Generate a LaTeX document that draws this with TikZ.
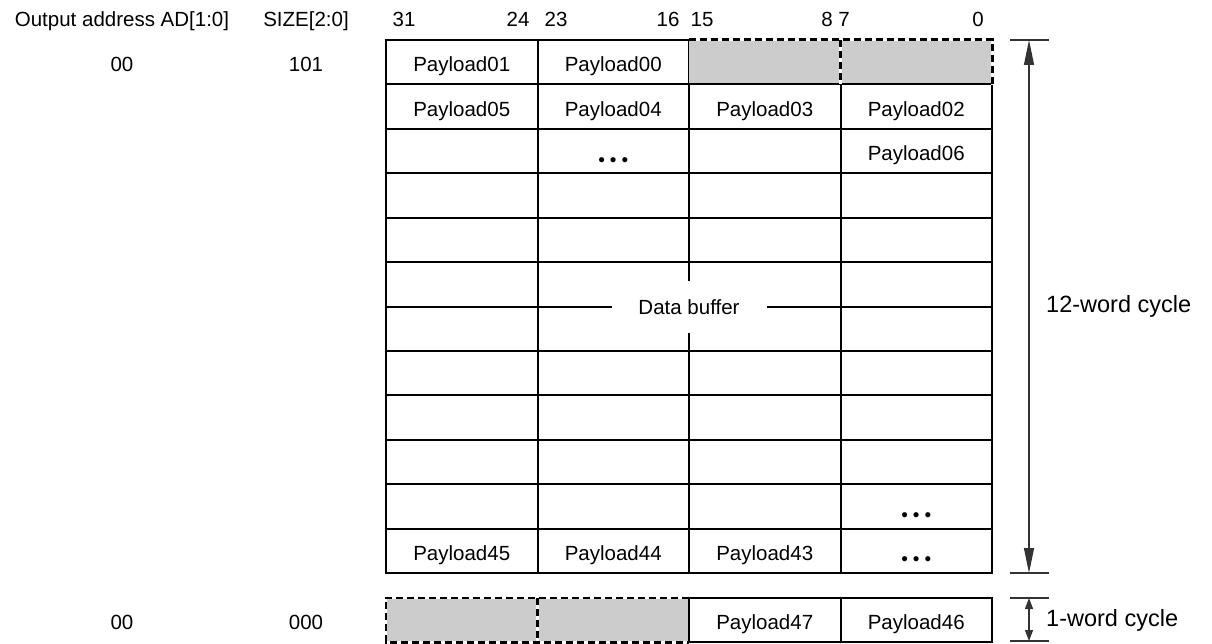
\documentclass[tikz,border=0pt]{standalone}
\usepackage{fontspec}
\setmainfont{Liberation Sans}
\usetikzlibrary{arrows.meta}
\definecolor{shade}{HTML}{CCCCCC}
\definecolor{dimgray}{HTML}{333333}
\newcommand{\ellipsisdots}{\raisebox{-5.5pt}{\fontsize{19}{20}\selectfont •\hspace{5pt}•\hspace{5pt}•}}
\begin{document}
\begin{tikzpicture}[x=1pt,y=-1pt,
  txt/.style={font=\fontsize{20.5}{24}\selectfont, inner sep=0pt, text height=15pt, text depth=0pt},
  ctxt/.style={txt, yshift=-2pt},
  bigtxt/.style={font=\fontsize{23.5}{28}\selectfont, inner sep=0pt, text height=17pt, text depth=5pt},
  cell/.style={draw, line width=2pt, minimum width=151.5pt, minimum height=44.42pt, inner sep=0pt},
  shadecell/.style={fill=shade, minimum width=151.5pt, minimum height=44.42pt, inner sep=0pt},
  dashedge/.style={line width=2.6pt, dash pattern=on 7pt off 4pt},
  underlay/.style={line width=2.6pt, white},
  dimline/.style={line width=1.3pt, dimgray},
  bigtip/.style={{Triangle[length=25pt,width=10pt]}-{Triangle[length=25pt,width=10pt]}},
  smalltip/.style={{Triangle[length=11pt,width=8pt]}-{Triangle[length=11pt,width=8pt]}}
]
\useasboundingbox (0,0) rectangle (1212,644);

% ---- column headings ----
\node[txt] (hdr-addr) at (122,19.5) {Output address AD[1:0]};
\node[txt] (hdr-size) at (306,19.5) {SIZE[2:0]};
\foreach \lbl/\xx in {31/404, 24/518, 23/556, 16/668, 15/702, 8/827, 7/844, 0/978}
  \node[txt] (bit-\lbl) at (\xx,19.5) {\lbl};

% ---- data buffer: 12 rows x 4 byte lanes ----
% first row: two payload bytes, two unused lanes
\node[cell] (cell-0-0) at (461.75,62.21) {};
\node[cell] (cell-0-1) at (613.25,62.21) {};
\node[shadecell] (cell-0-2) at (764.75,62.21) {};
\node[shadecell] (cell-0-3) at (916.25,62.21) {};
\foreach \r in {1,...,11}
  \foreach \c in {0,...,3}
    \node[cell] (cell-\r-\c) at ({386+151.5*(\c+0.5)},{40+44.42*(\r+0.5)}) {};

% unused lanes of the first row: dashed outline
\draw[underlay] (cell-0-2.north west) -- (cell-0-3.north east) -- (cell-0-3.south east);
\draw[underlay] (cell-0-2.north east) -- (cell-0-2.south east);
\draw[dashedge] (cell-0-2.north west) -- (cell-0-3.north east) -- (cell-0-3.south east);
\draw[dashedge] (cell-0-2.north east) -- (cell-0-2.south east);

% payload bytes
\node[ctxt] (p01) at (cell-0-0) {Payload01};
\node[ctxt] (p00) at (cell-0-1) {Payload00};
\node[ctxt] (p05) at (cell-1-0) {Payload05};
\node[ctxt] (p04) at (cell-1-1) {Payload04};
\node[ctxt] (p03) at (cell-1-2) {Payload03};
\node[ctxt] (p02) at (cell-1-3) {Payload02};
\node[ctxt] (dots-a) at (cell-2-1) {\ellipsisdots};
\node[ctxt] (p06) at (cell-2-3) {Payload06};
\node[ctxt] (dots-b) at (cell-10-3) {\ellipsisdots};
\node[ctxt] (p45) at (cell-11-0) {Payload45};
\node[ctxt] (p44) at (cell-11-1) {Payload44};
\node[ctxt] (p43) at (cell-11-2) {Payload43};
\node[ctxt] (dots-c) at (cell-11-3) {\ellipsisdots};

% buffer caption over the grid
\node[txt, fill=white, minimum width=155pt, minimum height=52pt] (buf) at (689,306.52) {Data buffer};

% ---- last transfer: one word ----
\node[shadecell, minimum height=44pt] (last-0) at (461.75,620) {};
\node[shadecell, minimum height=44pt] (last-1) at (613.25,620) {};
\node[cell, minimum height=44pt] (last-2) at (764.75,620) {};
\node[cell, minimum height=44pt] (last-3) at (916.25,620) {};
\draw[underlay] (last-1.north east) -- (last-0.north west) -- (last-0.south west) -- (last-1.south east);
\draw[underlay] (last-0.north east) -- (last-0.south east);
\draw[dashedge] (last-1.north east) -- (last-0.north west) -- (last-0.south west) -- (last-1.south east);
\draw[dashedge] (last-0.north east) -- (last-0.south east);
\node[ctxt] (p47) at (last-2) {Payload47};
\node[ctxt] (p46) at (last-3) {Payload46};

% ---- address / size values ----
\node[ctxt] (addr-a) at (122,62.21) {00};
\node[ctxt] (size-a) at (306,62.21) {101};
\node[ctxt] (addr-b) at (122,620) {00};
\node[ctxt] (size-b) at (306,620) {000};

% ---- cycle dimensions ----
\coordinate (d12-top) at (1029,40);
\coordinate (d12-bot) at (1029,573);
\coordinate (d1-top) at (1029,598);
\coordinate (d1-bot) at (1029,641);
\foreach \p in {d12-top, d12-bot, d1-top, d1-bot}
  \draw[dimline] ([xshift=-19pt]\p) -- ([xshift=20pt]\p);
\draw[dimline, bigtip] (d12-top) -- (d12-bot);
\draw[dimline, smalltip] (d1-top) -- (d1-bot);
\node[bigtxt, anchor=west] (lbl12) at (1046,306.5) {12-word cycle};
\node[bigtxt, anchor=west] (lbl1) at (1046,620) {1-word cycle};
\end{tikzpicture}
\end{document}
